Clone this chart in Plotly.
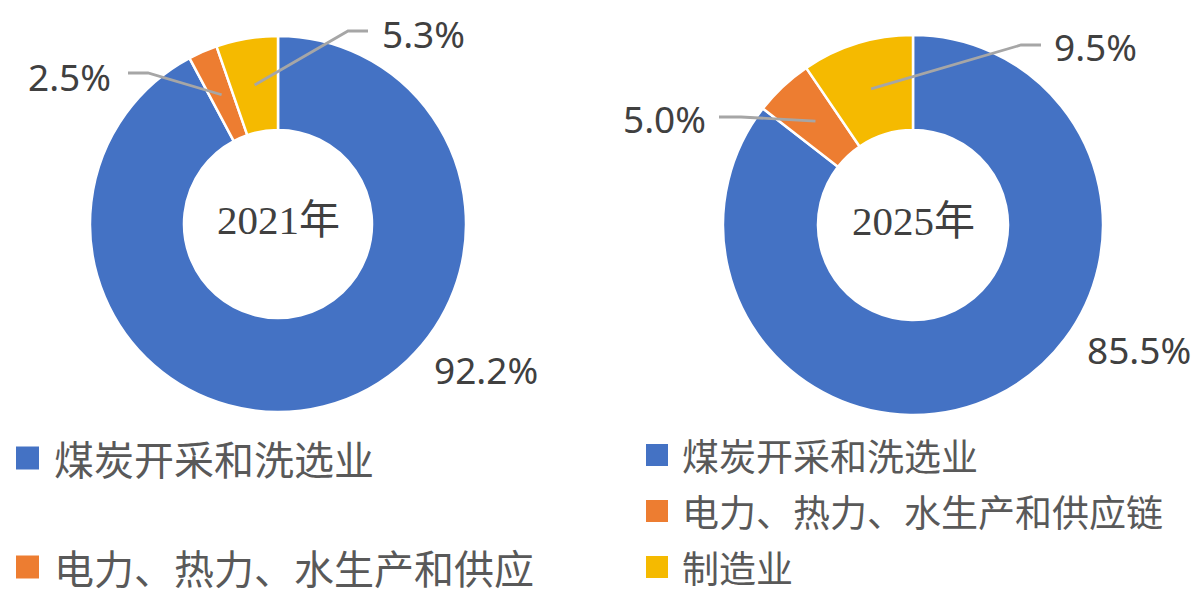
import math
import plotly.graph_objects as go

W, H = 1197, 597

# ---- data ----
categories = ["煤炭开采和洗选业", "电力、热力、水生产和供应", "制造业"]
legend_left = ["煤炭开采和洗选业", "电力、热力、水生产和供应"]
legend_right = ["煤炭开采和洗选业", "电力、热力、水生产和供应链", "制造业"]
values_2021 = [92.2, 2.5, 5.3]
values_2025 = [85.5, 5.0, 9.5]
years = ["2021年", "2025年"]
colors = ["#4472C4", "#ED7D31", "#F5BA00"]

# ---- layout (pixels) ----
HOLE = 0.5
pies = [
    dict(vals=values_2021, year=years[0], cx=278, cy=224, r=188,
         # label anchors: (x, y, xanchor) and leader (start_x, bend_x, y) or None
         labels=[(432, 369, "left", None),
                 (113, 76, "right", (128, 148, 73)),
                 (380, 34, "left", (368, 348, 31))]),
    dict(vals=values_2025, year=years[1], cx=913, cy=225, r=190,
         labels=[(1085, 350, "left", None),
                 (708, 119, "right", (719, 741, 117)),
                 (1052, 46, "left", (1041, 1021, 45))]),
]


def px(x):
    return x / W


def py(y):
    return 1 - y / H


fig = go.Figure()
annotations = []
shapes = []
LABEL_FONT = dict(family="Noto Sans, Open Sans, sans-serif", size=37, color="#404040")

for p in pies:
    fig.add_trace(go.Pie(
        labels=categories, values=p["vals"], hole=HOLE, sort=False,
        direction="clockwise", rotation=0, textinfo="none",
        marker=dict(colors=colors, line=dict(color="white", width=2.5)),
        domain=dict(x=[px(p["cx"] - p["r"]), px(p["cx"] + p["r"])],
                    y=[py(p["cy"] + p["r"]), py(p["cy"] - p["r"])]),
        showlegend=False, hoverinfo="label+percent"))
    annotations.append(dict(
        x=px(p["cx"]), y=py(p["cy"] - 4), xref="paper", yref="paper",
        text=p["year"], showarrow=False, xanchor="center", yanchor="middle",
        font=dict(family="Liberation Serif, Times New Roman, Noto Sans CJK SC, serif",
                  size=41, color="#404040")))
    total = sum(p["vals"])
    cum = 0.0
    for v, (lx, ly, xa, leader) in zip(p["vals"], p["labels"]):
        mid = (cum + v / 2) / total
        cum += v
        annotations.append(dict(
            x=px(lx), y=py(ly), xref="paper", yref="paper",
            text=f"{v:.1f}%", showarrow=False, xanchor=xa, yanchor="middle",
            font=LABEL_FONT))
        if leader is not None:
            th = mid * 2 * math.pi
            rm = p["r"] * (1 + HOLE) / 2
            ex = p["cx"] + rm * math.sin(th)
            ey = p["cy"] - rm * math.cos(th)
            sx, bx, sy = leader
            path = (f"M {px(sx)} {py(sy)} L {px(bx)} {py(sy)} "
                    f"L {px(ex)} {py(ey)}")
            shapes.append(dict(type="path", path=path, xref="paper", yref="paper",
                               line=dict(color="#A6A6A6", width=2.8)))

LEG_FONT_FAMILY = "Noto Sans CJK SC, sans-serif"


def add_legend(items, x0, ys, sq, text_x, size):
    for name, c, y in zip(items, colors, ys):
        shapes.append(dict(type="rect", xref="paper", yref="paper",
                           x0=px(x0), x1=px(x0 + sq),
                           y0=py(y + sq / 2), y1=py(y - sq / 2),
                           fillcolor=c, line=dict(width=0)))
        annotations.append(dict(
            x=px(text_x), y=py(y), xref="paper", yref="paper", text=name,
            showarrow=False, xanchor="left", yanchor="middle",
            font=dict(family=LEG_FONT_FAMILY, size=size, color="#595959")))


add_legend(legend_left, 16, [458, 567], 23, 52, 40)
add_legend(legend_right, 646, [455, 511, 567], 22, 680, 37)

fig.update_layout(
    width=W, height=H, margin=dict(l=0, r=0, t=0, b=0),
    paper_bgcolor="white", plot_bgcolor="white",
    annotations=annotations, shapes=shapes)

fig.write_html(
    "out.html",
    config={"displayModeBar": False},
    post_script="document.body.style.margin='0';document.body.style.overflow='hidden';")
